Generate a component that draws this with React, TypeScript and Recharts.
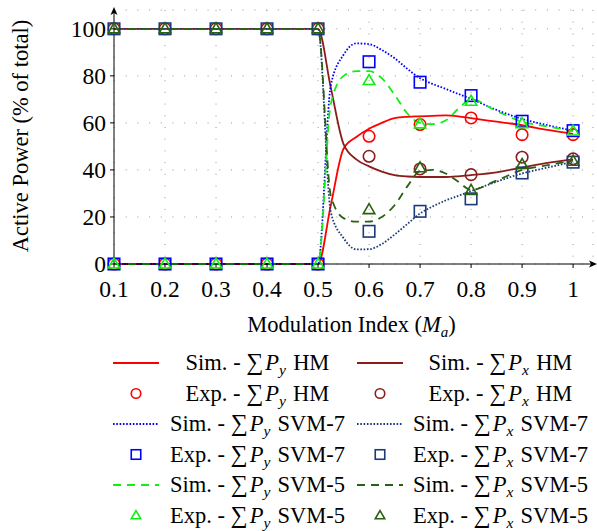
import { ComposedChart, Line, Scatter, XAxis, YAxis, CartesianGrid, ReferenceDot } from "recharts";

const FONT = "'Liberation Serif', 'Times New Roman', serif";
const SERIF = { fontFamily: FONT };

// simulated curves
const simX = [0.1, 0.2, 0.3, 0.4, 0.5, 0.525, 0.55, 0.575, 0.6, 0.625, 0.65, 0.675, 0.7, 0.725, 0.75, 0.775, 0.8, 0.85, 0.9, 0.95, 1];
const simPyHM = [0, 0, 0, 0, 0, 25, 49, 54, 57.5, 60, 62, 62.6, 62.8, 63, 63.2, 62.8, 62, 60.5, 59, 57, 55.3];
const simPxHM = [100, 100, 100, 100, 100, 75, 51, 44.5, 41.5, 39.3, 37.8, 37.2, 37, 37, 37, 37.3, 37.8, 39, 41, 43, 44.5];
const simPySVM7 = [0, 0, 0, 0, 0, 76, 89, 93.8, 93.5, 91, 87.5, 83, 79, 76.5, 74.5, 72.3, 70.2, 65.5, 61.7, 59, 56.7];
const simPxSVM7 = [100, 100, 100, 100, 100, 22, 11, 6.2, 6.3, 8.5, 12.5, 17, 21.5, 24.5, 27, 29, 31, 35, 38.5, 41, 43.5];
const simPySVM5 = [0, 0, 0, 0, 0, 68, 80, 82, 82, 79, 72, 64, 60, 59.5, 61, 66, 70, 65, 60.5, 58.5, 56.5];
const simPxSVM5 = [100, 100, 100, 100, 100, 29, 19.5, 18, 18, 20, 25, 33, 39.5, 40, 38.5, 35, 31.5, 35.5, 40, 42, 44];

// experimental points
const expX = [0.1, 0.2, 0.3, 0.4, 0.5, 0.6, 0.7, 0.8, 0.9, 1];
const expPyHM = [0, 0, 0, 0, 0, 54.3, 59.3, 62.1, 55, 55];
const expPxHM = [100, 100, 100, 100, 100, 45.8, 40.4, 38, 45.4, 44.7];
const expPySVM7 = [0, 0, 0, 0, 0, 86, 77.3, 71.6, 60.7, 56.7];
const expPxSVM7 = [100, 100, 100, 100, 100, 13.9, 22.4, 27.7, 38.7, 43.3];
const expPySVM5 = [0, 0, 0, 0, 0, 78, 59.6, 69.2, 59.7, 56.5];
const expPxSVM5 = [100, 100, 100, 100, 100, 23.1, 40.9, 31.3, 42.3, 43.7];

const xTicks = [0.1, 0.2, 0.3, 0.4, 0.5, 0.6, 0.7, 0.8, 0.9, 1];
const xTickLabels = ["0.1", "0.2", "0.3", "0.4", "0.5", "0.6", "0.7", "0.8", "0.9", "1"];
const yTicks = [0, 20, 40, 60, 80, 100];

const zip = (xs: number[], ys: number[]) => xs.map((m, i) => ({ m, v: ys[i] }));

const RED = "#ff0000";
const BROWN = "#8b1c1c";
const BLUE = "#0000ff";
const NAVY = "#1a3a7a";
const LIME = "#11ee11";
const DKGREEN = "#2a6012";
const DOT = "1.6 1.7";
const DASH = "8 6";

type Mark = "line" | "circle" | "square" | "triangle";

const series: { kind: string; sub: string; method: string; mark: Mark; color: string; dash?: string; sim?: number[]; exp?: number[] }[] = [
  { kind: "Sim.", sub: "y", method: "HM", mark: "line", color: RED, sim: simPyHM },
  { kind: "Sim.", sub: "x", method: "HM", mark: "line", color: BROWN, sim: simPxHM },
  { kind: "Exp.", sub: "y", method: "HM", mark: "circle", color: RED, exp: expPyHM },
  { kind: "Exp.", sub: "x", method: "HM", mark: "circle", color: BROWN, exp: expPxHM },
  { kind: "Sim.", sub: "y", method: "SVM-7", mark: "line", color: BLUE, dash: DOT, sim: simPySVM7 },
  { kind: "Sim.", sub: "x", method: "SVM-7", mark: "line", color: NAVY, dash: DOT, sim: simPxSVM7 },
  { kind: "Exp.", sub: "y", method: "SVM-7", mark: "square", color: BLUE, exp: expPySVM7 },
  { kind: "Exp.", sub: "x", method: "SVM-7", mark: "square", color: NAVY, exp: expPxSVM7 },
  { kind: "Sim.", sub: "y", method: "SVM-5", mark: "line", color: LIME, dash: DASH, sim: simPySVM5 },
  { kind: "Sim.", sub: "x", method: "SVM-5", mark: "line", color: DKGREEN, dash: DASH, sim: simPxSVM5 },
  { kind: "Exp.", sub: "y", method: "SVM-5", mark: "triangle", color: LIME, exp: expPySVM5 },
  { kind: "Exp.", sub: "x", method: "SVM-5", mark: "triangle", color: DKGREEN, exp: expPxSVM5 },
];

function marker(mark: Mark, cx: number, cy: number, color: string, s: number) {
  if (mark === "circle") return <circle cx={cx} cy={cy} r={s / 2} fill="none" stroke={color} strokeWidth={1.6} />;
  if (mark === "square") return <rect x={cx - s / 2} y={cy - s / 2} width={s} height={s} fill="none" stroke={color} strokeWidth={1.6} />;
  const h = s * 0.87;
  return (
    <polygon
      points={`${cx},${cy - h * 0.6} ${cx + s / 2},${cy + h * 0.4} ${cx - s / 2},${cy + h * 0.4}`}
      fill="none"
      stroke={color}
      strokeWidth={1.6}
    />
  );
}

const XLabel = (props: any) => {
  const vb = props.viewBox;
  return (
    <text x={vb.x + vb.width / 2 - 2} y={vb.y + 68} textAnchor="middle" style={SERIF} fontSize={22.5} fill="#000">
      Modulation Index (<tspan fontStyle="italic">M</tspan>
      <tspan fontStyle="italic" fontSize={15} dy={5}>a</tspan>
      <tspan dy={-5}>)</tspan>
    </text>
  );
};

const YLabel = (props: any) => {
  const vb = props.viewBox;
  const cy = vb.y + vb.height / 2 - 1;
  return (
    <text x={28} y={cy} transform={`rotate(-90, 28, ${cy})`} textAnchor="middle" style={SERIF} fontSize={22.5} fill="#000">
      Active Power (% of total)
    </text>
  );
};

const ArrowUp = (p: any) => (
  <path d={`M${p.cx},${p.cy - 3} L${p.cx + 3.5},${p.cy + 5} L${p.cx},${p.cy + 3} L${p.cx - 3.5},${p.cy + 5} Z`} fill="#000" />
);
const ArrowRight = (p: any) => (
  <path d={`M${p.cx + 4},${p.cy} L${p.cx - 4},${p.cy - 3.5} L${p.cx - 2},${p.cy} L${p.cx - 4},${p.cy + 3.5} Z`} fill="#000" />
);

function LegendBox() {
  const colX = [136, 380];
  const textX = [257.5, 500.5];
  return (
    <svg width={597} height={531} style={{ position: "absolute", left: 0, top: 0, pointerEvents: "none" }}>
      {series.map((s, i) => {
        const col = i % 2;
        const row = Math.floor(i / 2);
        const cy = 363 + row * 30.5;
        const cx = colX[col];
        return (
          <g key={i}>
            {s.mark === "line" ? (
              <line x1={cx - 23} x2={cx + 23} y1={cy} y2={cy} stroke={s.color} strokeWidth={1.8} strokeDasharray={s.dash} />
            ) : (
              marker(s.mark, cx, cy, s.color, 9.5)
            )}
            <text x={textX[col]} y={cy + 7} textAnchor="middle" style={SERIF} fontSize={22.5} fill="#000">
              {s.kind} - <tspan fontSize={24}>∑</tspan>
              <tspan fontStyle="italic" dx={2}>P</tspan>
              <tspan fontStyle="italic" fontSize={15.5} dy={5}>{s.sub}</tspan>
              <tspan dy={-5} dx={1.5}> {s.method}</tspan>
            </text>
          </g>
        );
      })}
    </svg>
  );
}

const TickText = (p: any) => {
  const { x, y, payload, anchor } = p;
  const idx = xTicks.findIndex((t) => Math.abs(t - payload.value) < 1e-6);
  const label = anchor === "x" ? xTickLabels[idx] ?? String(payload.value) : String(payload.value);
  return (
    <text
      x={anchor === "x" ? x : x - 1}
      y={anchor === "x" ? y + 16 : y + 8}
      textAnchor={anchor === "x" ? "middle" : "end"}
      style={SERIF}
      fontSize={23.5}
      fill="#000"
    >
      {label}
    </text>
  );
};

export default function App() {
  return (
    <div style={{ position: "absolute", left: 0, top: 0, width: 597, height: 531, background: "#fff", fontFamily: FONT }}>
      <ComposedChart width={597} height={531} margin={{ top: 10, right: 4, bottom: 187, left: 0 }} style={SERIF}>
        <CartesianGrid stroke="#999" strokeDasharray="1 10.7" />
        <XAxis
          type="number"
          dataKey="m"
          domain={[0.1, 1.039]}
          ticks={xTicks}
          height={80}
          tickSize={4}
          tickMargin={13}
          tick={(p: any) => <TickText {...p} anchor="x" />}
          axisLine={{ stroke: "#000" }}
          tickLine={{ stroke: "#000" }}
          label={XLabel}
        />
        <YAxis
          type="number"
          dataKey="v"
          domain={[0, 108]}
          ticks={yTicks}
          width={114}
          tickSize={4}
          tickMargin={3}
          tick={(p: any) => <TickText {...p} anchor="y" />}
          axisLine={{ stroke: "#000" }}
          tickLine={{ stroke: "#000" }}
          label={YLabel}
        />
        {series.map((s, i) =>
          s.sim ? (
            <Line
              key={i}
              data={zip(simX, s.sim)}
              dataKey="v"
              type="monotone"
              stroke={s.color}
              strokeWidth={1.8}
              strokeDasharray={s.dash}
              dot={false}
              activeDot={false}
              isAnimationActive={false}
            />
          ) : (
            <Scatter
              key={i}
              data={zip(expX, s.exp as number[])}
              dataKey="v"
              isAnimationActive={false}
              shape={(p: any) => marker(s.mark, p.cx, p.cy, s.color, 11.5)}
            />
          )
        )}
        <ReferenceDot x={0.1} y={108} ifOverflow="visible" shape={ArrowUp} />
        <ReferenceDot x={1.039} y={0} ifOverflow="visible" shape={ArrowRight} />
      </ComposedChart>
      <LegendBox />
    </div>
  );
}
